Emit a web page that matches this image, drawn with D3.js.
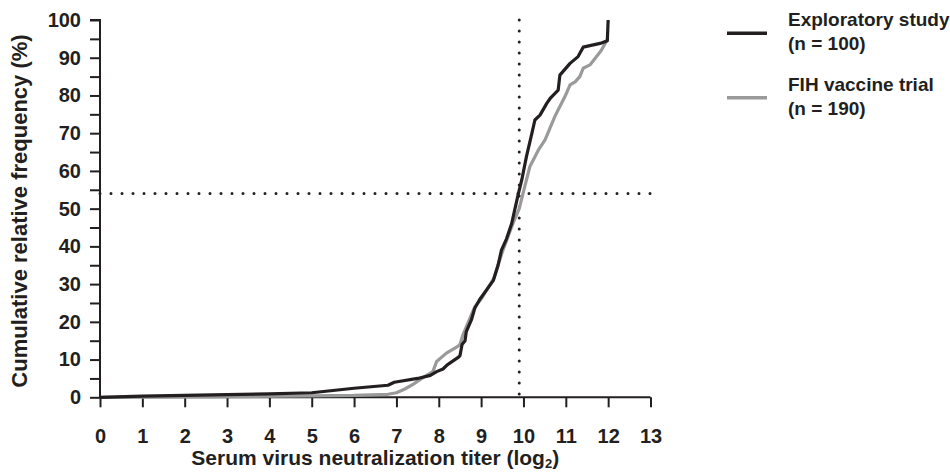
<!DOCTYPE html>
<html><head><meta charset="utf-8">
<script src="https://cdn.jsdelivr.net/npm/d3@7"></script>
<style>
html,body{margin:0;padding:0;background:#fff;overflow:hidden;}
text{font-family:"Liberation Sans",Arial,sans-serif;font-weight:bold;fill:#231f20;}
</style></head>
<body><svg id="chart" width="950" height="472"></svg>
<script>
// Data (x: log2 titer, y: cumulative relative frequency %)
const exploratory = [[0,0],[1,0.3],[2,0.5],[3,0.7],[4,0.9],[5,1.2],[5.5,1.8],[6,2.4],[6.8,3.2],[6.95,4.0],[7.5,5.0],[7.8,5.8],[7.95,6.8],[8.1,7.5],[8.2,8.6],[8.45,10.5],[8.5,11],[8.55,14],[8.62,15],[8.65,17.4],[8.77,20.5],[8.85,23.6],[8.97,26],[9.1,28],[9.29,31],[9.4,35],[9.48,39],[9.6,42],[9.72,46],[9.8,50],[9.88,54],[9.96,57.6],[10.07,63.8],[10.2,70],[10.27,73.5],[10.39,74.8],[10.55,77.9],[10.63,79.2],[10.82,81.4],[10.86,85.4],[11.1,88.5],[11.29,90.3],[11.41,92.8],[11.81,93.8],[11.98,94.5],[12,100]];
const fihTrial = [[0,0],[3,0.2],[5,0.4],[6,0.5],[6.8,0.8],[7.0,1.2],[7.2,2.2],[7.4,3.5],[7.6,5],[7.86,6.8],[7.95,9.5],[8.18,11.7],[8.45,13.5],[8.5,14],[8.57,16.5],[8.7,20],[8.85,24],[9.0,26],[9.3,31.5],[9.5,38.5],[9.75,46],[9.9,50],[10.0,54.5],[10.15,61.1],[10.35,65.5],[10.51,68.2],[10.74,74.4],[10.98,79.7],[11.1,82.8],[11.22,83.6],[11.33,85],[11.41,87.2],[11.57,88.1],[11.69,89.8],[11.84,92],[11.95,94.2],[12,95]];
const xTicks = d3.range(0,14);
const yTicks = d3.range(0,101,5);
const refX = 9.9, refY = 54;
const seriesNames = ["Exploratory study", "FIH vaccine trial"];
const seriesN = ["(n = 100)", "(n = 190)"];
const seriesColors = ["#231f20", "#9a9a9a"];

const svg = d3.select("#chart");
const x = d3.scaleLinear().domain([0,13]).range([100,650.5]);
const y = d3.scaleLinear().domain([0,100]).range([397.3,20]);

// axes
const xAxis = d3.axisBottom(x).tickValues(xTicks).tickSize(10).tickPadding(22).tickFormat(d3.format("d"));
const gx = svg.append("g").attr("transform",`translate(0,${y(0)})`).call(xAxis);
const yAxis = d3.axisLeft(y).tickValues(yTicks).tickSize(10).tickPadding(9).tickFormat(d=> d%10===0 ? d : "");
const gy = svg.append("g").attr("transform",`translate(${x(0)},0)`).call(yAxis);
[gx,gy].forEach(g=>{
  g.select(".domain").attr("stroke","#231f20").attr("stroke-width",2);
  g.selectAll(".tick line").attr("stroke","#231f20").attr("stroke-width",2);
  g.selectAll(".tick text").style("font-size","20px").style("font-family","Liberation Sans, Arial, sans-serif").style("font-weight","bold").attr("fill","#231f20");
});
gy.select(".domain").attr("d",`M-10,${y(100)}H0V${y(0)}`);
gx.select(".domain").attr("d",`M0,0H${x(13)-x(0)}`).attr("transform",`translate(${x(0)},0)`);

// reference dotted lines
svg.append("line").attr("x1",x(0)).attr("x2",x(13)).attr("y1",y(refY)).attr("y2",y(refY))
  .attr("stroke","#231f20").attr("stroke-width",3).attr("stroke-linecap","round").attr("stroke-dasharray","0 11");
svg.append("line").attr("x1",x(refX)).attr("x2",x(refX)).attr("y1",y(100)).attr("y2",y(0))
  .attr("stroke","#231f20").attr("stroke-width",3).attr("stroke-linecap","round").attr("stroke-dasharray","0 11");

// lines
const line = d3.line().x(d=>x(d[0])).y(d=>y(d[1]));
svg.append("path").datum(fihTrial).attr("d",line).attr("fill","none").attr("stroke",seriesColors[1]).attr("stroke-width",3.2).attr("stroke-linejoin","round");
svg.append("path").datum(exploratory).attr("d",line).attr("fill","none").attr("stroke",seriesColors[0]).attr("stroke-width",3.2).attr("stroke-linejoin","round");

// axis titles
const xt = svg.append("text").attr("x",(x(0)+x(13))/2).attr("y",465).attr("text-anchor","middle").style("font-size","21px");
xt.append("tspan").text("Serum virus neutralization titer (log");
xt.append("tspan").attr("dy",2.5).style("font-size","13px").text("2");
xt.append("tspan").attr("dy",-2.5).text(")");
svg.append("text").attr("transform",`translate(27,211) rotate(-90)`).attr("text-anchor","middle").style("font-size","22px")
  .text("Cumulative relative frequency (%)");

// legend
const leg = svg.append("g");
[0,1].forEach(i=>{
  const ly = i===0 ? 33.3 : 97.7;
  leg.append("line").attr("x1",727).attr("x2",767).attr("y1",ly).attr("y2",ly).attr("stroke",seriesColors[i]).attr("stroke-width",3.5);
  leg.append("text").attr("x",788).attr("y",ly-7).style("font-size","19px").text(seriesNames[i]);
  leg.append("text").attr("x",788).attr("y",ly+17).style("font-size","19px").text(seriesN[i]);
});
</script></body></html>
